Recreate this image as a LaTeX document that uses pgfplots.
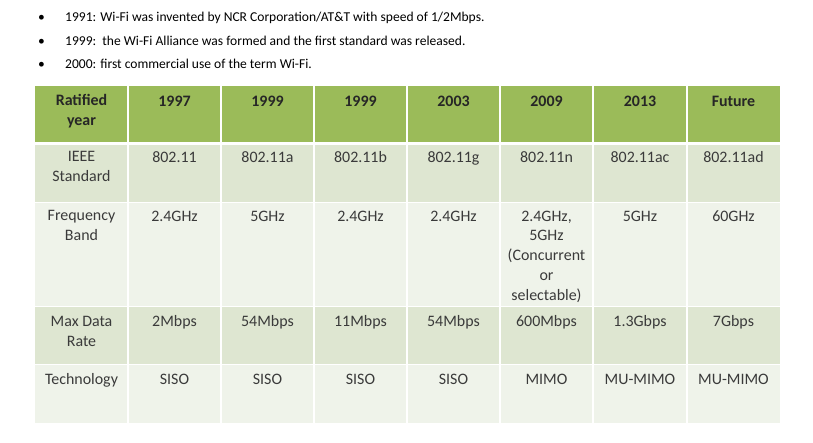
\documentclass[border=0pt]{standalone}
\usepackage{pgfplots}
\pgfplotsset{compat=1.18}
\usepackage{fontspec}
\setmainfont{Carlito}
\definecolor{hdr}{HTML}{9BBB59}
\definecolor{band}{HTML}{DEE6D1}
\definecolor{lite}{HTML}{EFF3EA}
\definecolor{txt}{HTML}{3A3A3A}
\begin{document}
\begin{tikzpicture}
\begin{axis}[
  width=813bp, height=443bp, scale only axis,
  xmin=0, xmax=813, ymin=0, ymax=443, y dir=reverse,
  hide axis, clip=false,
]
% page background
\addplot[fill=white, draw=none] coordinates {(0,0) (813,0) (813,443) (0,443)} -- cycle;
% row bands
\addplot[fill=hdr, draw=none]  coordinates {(35,86) (780,86) (780,142) (35,142)} -- cycle;
\addplot[fill=band, draw=none] coordinates {(35,145) (780,145) (780,202) (35,202)} -- cycle;
\addplot[fill=lite, draw=none] coordinates {(35,203) (780,203) (780,306) (35,306)} -- cycle;
\addplot[fill=band, draw=none] coordinates {(35,307) (780,307) (780,364) (35,364)} -- cycle;
\addplot[fill=lite, draw=none] coordinates {(35,365) (780,365) (780,423) (35,423)} -- cycle;
% vertical cell dividers
\pgfplotsinvokeforeach{128,221,314,407,500,593,687}{
  \addplot[white, line width=1.2bp] coordinates {(#1,86) (#1,423)};
}
% bullets
\begin{scope}[every node/.style={anchor=base west, inner sep=0pt, text=black, font=\fontsize{13.6}{16}\selectfont}]
\node at (axis cs:38,22) {\textbullet};
\node at (axis cs:38,46) {\textbullet};
\node at (axis cs:38,69) {\textbullet};
\node at (axis cs:65,22) {1991: Wi-Fi was invented by NCR Corporation/AT\&T with speed of 1/2Mbps.};
\node at (axis cs:65,46) {1999:\ \ the Wi-Fi Alliance was formed and the first standard was released.};
\node at (axis cs:65,69) {2000: first commercial use of the term Wi-Fi.};
\end{scope}
% table text
\begin{scope}[every node/.style={anchor=north, inner sep=0pt, align=center, text=txt, font=\fontsize{16}{20}\selectfont, execute at begin node=\strut}]
% header
\begin{scope}[every node/.append style={text=black!85, font=\fontsize{16}{20}\selectfont\bfseries}]
\node at (axis cs:81.5,94.5) {Ratified\\year};
\node at (axis cs:174.5,92) {1997};
\node at (axis cs:267.5,92) {1999};
\node at (axis cs:360.5,92) {1999};
\node at (axis cs:453.5,92) {2003};
\node at (axis cs:546.5,92) {2009};
\node at (axis cs:640,92) {2013};
\node at (axis cs:733.5,92) {Future};
\end{scope}
% IEEE
\node at (axis cs:81.5,151) {IEEE\\Standard};
\node at (axis cs:174.5,148) {802.11};
\node at (axis cs:267.5,148) {802.11a};
\node at (axis cs:360.5,148) {802.11b};
\node at (axis cs:453.5,148) {802.11g};
\node at (axis cs:546.5,148) {802.11n};
\node at (axis cs:640,148) {802.11ac};
\node at (axis cs:733.5,148) {802.11ad};
% Frequency
\node at (axis cs:81.5,210.5) {Frequency\\Band};
\node at (axis cs:174.5,207) {2.4GHz};
\node at (axis cs:267.5,207) {5GHz};
\node at (axis cs:360.5,207) {2.4GHz};
\node at (axis cs:453.5,207) {2.4GHz};
\node at (axis cs:546.5,210.5) {2.4GHz,\\5GHz\\(Concurrent\\or\\selectable)};
\node at (axis cs:640,207) {5GHz};
\node at (axis cs:733.5,207) {60GHz};
% Max data rate
\node at (axis cs:81.5,316) {Max Data\\Rate};
\node at (axis cs:174.5,312) {2Mbps};
\node at (axis cs:267.5,312) {54Mbps};
\node at (axis cs:360.5,312) {11Mbps};
\node at (axis cs:453.5,312) {54Mbps};
\node at (axis cs:546.5,312) {600Mbps};
\node at (axis cs:640,312) {1.3Gbps};
\node at (axis cs:733.5,312) {7Gbps};
% Technology
\node at (axis cs:81.5,370) {Technology};
\node at (axis cs:174.5,370) {SISO};
\node at (axis cs:267.5,370) {SISO};
\node at (axis cs:360.5,370) {SISO};
\node at (axis cs:453.5,370) {SISO};
\node at (axis cs:546.5,370) {MIMO};
\node at (axis cs:640,370) {MU-MIMO};
\node at (axis cs:733.5,370) {MU-MIMO};
\end{scope}
\end{axis}
\end{tikzpicture}
\end{document}
